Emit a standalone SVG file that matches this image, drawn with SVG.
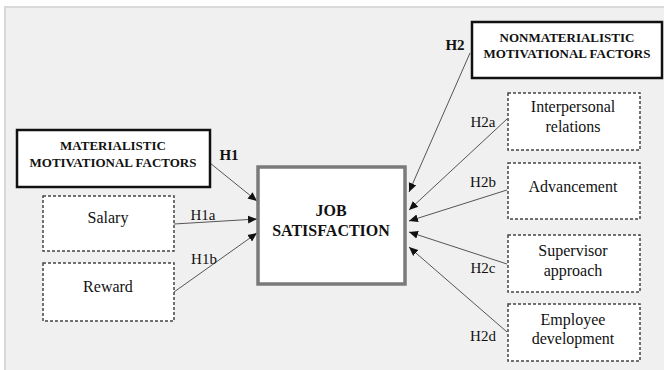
<svg xmlns="http://www.w3.org/2000/svg" width="664" height="370" viewBox="0 0 664 370">
<style>
.bg{fill:#f0f0f0;stroke:#d9d9d9;stroke-width:2}
.solid{fill:#fff;stroke:#111;stroke-width:2.5}
.main{fill:#fff;stroke:#7a7a7a;stroke-width:3.5}
.dash{fill:#fff;stroke:#444;stroke-width:1.5;stroke-dasharray:3 2}
.t{font-family:"Liberation Serif","Times New Roman",serif;fill:#111;text-anchor:middle}
.hb{font-size:13px;font-weight:bold}
.mb{font-size:16px;font-weight:bold}
.r{font-size:16px}
.lab{font-size:15px}
.lb{font-size:15px;font-weight:bold}
.conn{stroke:#555;stroke-width:1;fill:none;marker-end:url(#ah)}
</style>
<defs>
<marker id="ah" markerUnits="userSpaceOnUse" markerWidth="10" markerHeight="10" refX="9" refY="5" orient="auto">
<path d="M0,1 L9,5 L0,9 Z" fill="#111"/>
</marker>
</defs>
<rect class="bg" x="5" y="7" width="670" height="375"/>

<g id="connectors">
<line class="conn" x1="210" y1="163" x2="257" y2="201"/>
<line class="conn" x1="174" y1="224" x2="257" y2="219"/>
<line class="conn" x1="174" y1="292" x2="257" y2="233"/>
<line class="conn" x1="470" y1="53" x2="409" y2="192"/>
<line class="conn" x1="507" y1="119" x2="409" y2="210"/>
<line class="conn" x1="507" y1="190" x2="409" y2="221"/>
<line class="conn" x1="507" y1="264" x2="409" y2="232"/>
<line class="conn" x1="507" y1="332" x2="409" y2="247"/>
<text class="t lb" x="229" y="160">H1</text>
<text class="t lab" x="203" y="220">H1a</text>
<text class="t lab" x="204" y="264">H1b</text>
<text class="t lb" x="455" y="50">H2</text>
<text class="t lab" x="483" y="127">H2a</text>
<text class="t lab" x="483" y="187">H2b</text>
<text class="t lab" x="483" y="273">H2c</text>
<text class="t lab" x="483" y="341">H2d</text>
</g>

<g id="materialistic">
<rect class="solid" x="17" y="130" width="193" height="57"/>
<text class="t hb" x="113" y="150">MATERIALISTIC</text>
<text class="t hb" x="113" y="167">MOTIVATIONAL FACTORS</text>
</g>
<g id="salary">
<rect class="dash" x="43" y="196" width="131" height="55"/>
<text class="t r" x="108" y="223">Salary</text>
</g>
<g id="reward">
<rect class="dash" x="43" y="263" width="131" height="58"/>
<text class="t r" x="108" y="292">Reward</text>
</g>
<g id="job">
<rect class="main" x="258" y="167" width="147" height="117"/>
<text class="t mb" x="331" y="216">JOB</text>
<text class="t mb" x="331" y="236">SATISFACTION</text>
</g>
<g id="nonmaterialistic">
<rect class="solid" x="472" y="22" width="190" height="56"/>
<text class="t hb" x="567" y="42">NONMATERIALISTIC</text>
<text class="t hb" x="567" y="58">MOTIVATIONAL FACTORS</text>
</g>
<g id="interpersonal">
<rect class="dash" x="508" y="93" width="132" height="57"/>
<text class="t r" x="573" y="112">Interpersonal</text>
<text class="t r" x="573" y="132">relations</text>
</g>
<g id="advancement">
<rect class="dash" x="508" y="163" width="132" height="56"/>
<text class="t r" x="573" y="192">Advancement</text>
</g>
<g id="supervisor">
<rect class="dash" x="508" y="235" width="132" height="57"/>
<text class="t r" x="573" y="256">Supervisor</text>
<text class="t r" x="573" y="276">approach</text>
</g>
<g id="employee">
<rect class="dash" x="508" y="304" width="132" height="57"/>
<text class="t r" x="573" y="325">Employee</text>
<text class="t r" x="573" y="344">development</text>
</g>
</svg>
